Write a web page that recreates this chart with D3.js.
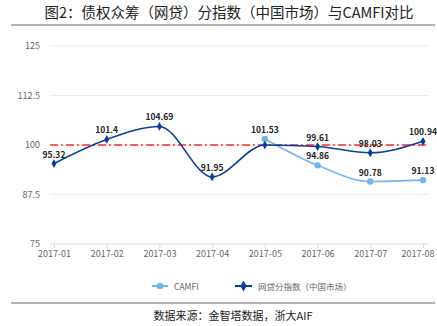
<!DOCTYPE html>
<html><head><meta charset="utf-8">
<script src="https://cdn.jsdelivr.net/npm/d3@7"></script>
<style>body{margin:0;background:#fff;}svg{display:block;}</style>
</head><body>
<svg id="c" width="437" height="326"></svg>
<script>
const categories = ["2017-01","2017-02","2017-03","2017-04","2017-05","2017-06","2017-07","2017-08"];
const p2pValues = [95.32, 101.4, 104.69, 91.95, 100.0, 99.61, 98.03, 100.94];
const p2pLabels = ["95.32","101.4","104.69","91.95","","99.61","98.03","100.94"];
const camfiValues = [null, null, null, null, 101.53, 94.86, 90.78, 91.13];
const camfiLabels = ["","","","","101.53","94.86","90.78","91.13"];
const yTicks = [75, 87.5, 100, 112.5, 125];
const refValue = 100;
const title = "图2：债权众筹（网贷）分指数（中国市场）与CAMFI对比";
const source = "数据来源：金智塔数据，浙大AIF";
const legendNames = ["CAMFI", "网贷分指数（中国市场）"];

const font = "'Noto Sans CJK SC','Noto Sans',sans-serif";
const dark = "#0b3e98", light = "#74b4ea";
const svg = d3.select("#c");

svg.append("text").attr("x", 229).attr("y", 18).attr("text-anchor","middle")
  .attr("font-family", font).attr("font-size", 14.5).attr("fill","#222").text(title);
svg.append("line").attr("x1",11).attr("x2",435).attr("y1",25).attr("y2",25)
  .attr("stroke","#9a9a9a").attr("stroke-width",1.5);

const x = d3.scalePoint().domain(categories).range([54, 423]);
const y = d3.scaleLinear().domain([75,125]).range([244, 46]);
const left = 50, right = 428;

// grid
svg.append("g").selectAll("line").data(yTicks.filter(t=>t!==75)).join("line")
  .attr("x1",left).attr("x2",right).attr("y1",d=>y(d)).attr("y2",d=>y(d))
  .attr("stroke","#ebebeb").attr("stroke-width",1);

// y axis labels
const yAxis = d3.axisLeft(y).tickValues(yTicks).tickSize(0).tickPadding(0).tickFormat(d=>String(d));
const gy = svg.append("g").attr("transform",`translate(40,0)`).call(yAxis);
gy.select(".domain").remove();
gy.selectAll("text").attr("font-family", font).attr("font-size", 9).attr("fill","#666");

// x axis
const xAxis = d3.axisBottom(x).tickSize(4).tickPadding(3);
const gx = svg.append("g").attr("transform",`translate(0,${y(75)})`).call(xAxis);
gx.select(".domain").attr("d", `M${left},0H${right}`).attr("stroke","#cfdcf0");
gx.selectAll(".tick line").attr("stroke","#cfdcf0");
gx.selectAll("text").attr("font-family", font).attr("font-size", 9).attr("fill","#666");
gx.selectAll(".tick").filter(d=>d===categories[categories.length-1]).select("text")
  .attr("text-anchor","end").attr("x", 11);

// reference line
svg.append("line").attr("x1",left).attr("x2",right).attr("y1",y(refValue)).attr("y2",y(refValue))
  .attr("stroke","#ff2a2a").attr("stroke-width",1.3).attr("stroke-dasharray","8,3,2,3");

const line = d3.line().defined(d=>d.v!=null).x(d=>x(d.c)).y(d=>y(d.v)).curve(d3.curveMonotoneX);
const p2p = categories.map((c,i)=>({c, v:p2pValues[i], l:p2pLabels[i]}));
const camfi = categories.map((c,i)=>({c, v:camfiValues[i], l:camfiLabels[i]}));

svg.append("path").datum(camfi).attr("d", line).attr("fill","none").attr("stroke",light).attr("stroke-width",1.6);
svg.append("g").selectAll("circle").data(camfi.filter(d=>d.v!=null)).join("circle")
  .attr("cx",d=>x(d.c)).attr("cy",d=>y(d.v)).attr("r",3.2).attr("fill",light);

svg.append("path").datum(p2p).attr("d", line).attr("fill","none").attr("stroke",dark).attr("stroke-width",1.6);
const diamond = d3.symbol().type(d3.symbolDiamond).size(22);
svg.append("g").selectAll("path").data(p2p).join("path")
  .attr("transform",d=>`translate(${x(d.c)},${y(d.v)})`).attr("d", diamond).attr("fill",dark);

function labels(data){
  svg.append("g").selectAll("text").data(data.filter(d=>d.v!=null && d.l)).join("text")
    .attr("x",d=>x(d.c)).attr("y",d=>y(d.v)-6).attr("text-anchor","middle")
    .attr("font-family", font).attr("font-size", 8.5).attr("font-weight","bold").attr("fill","#222")
    .text(d=>d.l);
}
labels(p2p); labels(camfi);

// legend
const lg = svg.append("g");
lg.append("line").attr("x1",152).attr("x2",168).attr("y1",286).attr("y2",286).attr("stroke",light).attr("stroke-width",2);
lg.append("circle").attr("cx",160).attr("cy",286).attr("r",3.2).attr("fill",light);
lg.append("text").attr("x",174).attr("y",289.5).attr("font-family",font).attr("font-size",8.5).attr("fill","#666").text(legendNames[0]);
lg.append("line").attr("x1",235).attr("x2",252).attr("y1",286).attr("y2",286).attr("stroke",dark).attr("stroke-width",2);
lg.append("path").attr("transform","translate(243.5,286)").attr("d", d3.symbol().type(d3.symbolDiamond).size(34)).attr("fill",dark);
lg.append("text").attr("x",258).attr("y",289.5).attr("font-family",font).attr("font-size",8.5).attr("fill","#666").text(legendNames[1]);

svg.append("line").attr("x1",11).attr("x2",435).attr("y1",303).attr("y2",303)
  .attr("stroke","#9a9a9a").attr("stroke-width",1.5);
svg.append("text").attr("x",233).attr("y",320).attr("text-anchor","middle")
  .attr("font-family",font).attr("font-size",11).attr("fill","#222").text(source);
</script>
</body></html>
